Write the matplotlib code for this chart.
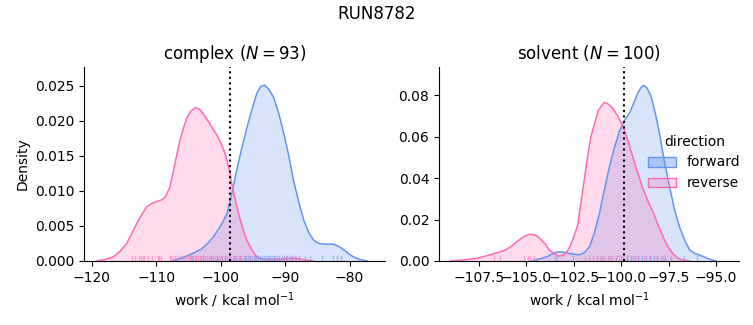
import matplotlib
matplotlib.use('Agg')
import matplotlib.pyplot as plt
from matplotlib.patches import Patch
from matplotlib.colors import to_rgba

# curvas de densidad (x, densidad)
cx_fwd = [-107.5, -106.8, -105.5, -104.3, -103.0, -101.9, -101.1, -100.0, -99.0, -98.3, -97.5, -96.7, -95.9,
          -95.1, -94.4, -93.8, -93.2, -92.6, -91.8, -91.0, -90.2, -89.4, -88.7, -87.9, -87.1, -86.3, -85.6,
          -84.8, -84.0, -83.2, -82.5, -81.7, -80.9, -80.1, -79.4, -78.4, -77.3]
cd_fwd = [0.0, 0.0002, 0.0006, 0.0011, 0.0017, 0.0026, 0.0035, 0.0050, 0.0068, 0.0095, 0.0130, 0.0162, 0.0191,
          0.0218, 0.0239, 0.0249, 0.0251, 0.0246, 0.0234, 0.0211, 0.0182, 0.0149, 0.0115, 0.0085, 0.0058, 0.0040, 0.0030,
          0.0025, 0.0024, 0.0024, 0.0024, 0.0021, 0.0016, 0.0010, 0.0006, 0.0002, 0.0]
cx_rev = [-119.2, -118.0, -116.6, -115.6, -114.6, -113.8, -113.0, -112.2, -111.5, -110.7, -109.9, -109.2, -108.6,
          -107.9, -107.3, -106.8, -106.3, -105.7, -105.2, -104.6, -103.9, -103.3, -102.7, -101.9, -101.1, -100.6,
          -100.1, -99.5, -99.0, -98.6, -98.3, -97.9, -97.5, -97.0, -96.5, -96.0, -95.4, -94.9, -94.4, -93.6,
          -92.8, -91.5, -90.2, -88.7, -87.2, -85.6]
cd_rev = [0.0, 0.0002, 0.0006, 0.0014, 0.0025, 0.0039, 0.0054, 0.0067, 0.0077, 0.0082, 0.0085, 0.0087, 0.0091,
          0.0105, 0.0130, 0.0152, 0.0173, 0.0192, 0.0205, 0.0214, 0.0219, 0.0217, 0.0210, 0.0199, 0.0187, 0.0180,
          0.0171, 0.0158, 0.0143, 0.0128, 0.0111, 0.0094, 0.0078, 0.0060, 0.0044, 0.0031, 0.0020, 0.0012, 0.0006, 0.0003,
          0.0002, 0.0002, 0.0003, 0.0004, 0.0002, 0.0]

sx_fwd = [-104.7, -104.3, -103.9, -103.6, -103.3, -103.0, -102.8, -102.5, -102.2, -101.95, -101.67, -101.4,
          -101.15, -100.9, -100.62, -100.35, -100.1, -99.85, -99.57, -99.35, -99.13, -98.95, -98.83, -98.65,
          -98.43, -98.2, -97.99, -97.75, -97.46, -97.2, -96.94, -96.65, -96.4, -96.1, -95.88, -95.6, -95.35, -95.0]
sd_fwd = [0.0, 0.0010, 0.0021, 0.0036, 0.0044, 0.0042, 0.0038, 0.0033, 0.0030, 0.0040, 0.0069, 0.0140,
          0.0230, 0.0340, 0.0456, 0.0550, 0.0625, 0.0675, 0.0713, 0.0760, 0.0810, 0.0838, 0.0847, 0.0835,
          0.0794, 0.0710, 0.0617, 0.0490, 0.0359, 0.0250, 0.0166, 0.0098, 0.0053, 0.0035, 0.0029, 0.0018, 0.0008, 0.0]
sx_rev = [-109.0, -108.3, -107.6, -106.8, -106.1, -105.8, -105.5, -105.1, -104.8, -104.5, -104.3, -104.0, -103.8,
          -103.5, -103.3, -103.1, -102.9, -102.7, -102.5, -102.3, -102.1, -101.8, -101.6, -101.4, -101.2, -100.9,
          -100.7, -100.45, -100.2, -99.9, -99.65, -99.4, -99.15, -98.9, -98.6, -98.3, -98.05, -97.8, -97.55,
          -97.3, -97.05, -96.8, -96.4]
sd_rev = [0.0, 0.0005, 0.0013, 0.0032, 0.0053, 0.0070, 0.0093, 0.0120, 0.0129, 0.0124, 0.0110, 0.0082, 0.0053,
          0.0034, 0.0024, 0.0027, 0.0040, 0.0070, 0.0117, 0.0170, 0.0295, 0.0488, 0.0600, 0.0665, 0.0728, 0.0765,
          0.0758, 0.0738, 0.0700, 0.0649, 0.0580, 0.0504, 0.0430, 0.0359, 0.0290, 0.0230, 0.0170, 0.0117, 0.0070,
          0.0037, 0.0015, 0.0005, 0.0]

# posiciones de la alfombra (rug)
rug_c_fwd = [-104.5, -102.8, -101.5, -100.6, -99.9, -99.3, -98.6, -98.0, -97.6, -97.2, -96.8, -96.4, -96.0, -95.7,
             -95.4, -95.1, -94.8, -94.5, -94.2, -93.9, -93.6, -93.3, -93.0, -92.7, -92.4, -92.1, -91.8, -91.5,
             -91.2, -90.9, -90.5, -90.1, -89.7, -89.3, -88.9, -88.4, -87.8, -86.9, -86.1, -84.2, -82.5, -81.9, -81.4]
rug_c_rev = [-113.8, -113.3, -112.6, -112.4, -112.1, -111.9, -111.2, -110.7, -109.8, -109.5, -109.2, -107.9, -107.7,
             -107.4, -107.1, -106.8, -106.5, -106.2, -105.8, -105.5, -105.1, -104.8, -104.6, -104.3, -104.0, -103.8,
             -103.5, -103.2, -103.0, -102.7, -102.4, -102.1, -101.8, -101.5, -101.2, -100.9, -100.5, -100.2, -99.8,
             -99.4, -99.0, -98.6, -98.1, -97.6, -97.0, -96.3, -95.5, -94.6, -92.5, -89.8, -88.9, -88.3]
rug_s_fwd = [-103.5, -103.4, -102.55, -101.0, -100.6, -100.3, -100.0, -99.7, -99.5, -99.3, -99.1, -98.9, -98.7,
             -98.5, -98.3, -98.1, -97.9, -97.7, -97.4, -96.7, -96.0]
rug_s_rev = [-106.7, -106.4, -105.1, -104.9, -104.8, -104.6, -101.9, -101.7, -101.5, -101.3, -101.1, -100.9, -100.7,
             -100.5, -100.3, -100.1, -99.9, -99.7, -99.4, -99.1, -98.8, -98.5, -98.1, -97.8]

dg = [-98.5, -99.88]
titulos = ['complex ($N = 93$)', 'solvent ($N = 100$)']
azul = '#6495ED'
rosa = '#FF69B4'

fig = plt.figure(figsize=(7.53, 3.25), dpi=100)
ax1 = fig.add_axes([0.1116, 0.197, 0.3997, 0.597])
ax2 = fig.add_axes([0.583, 0.197, 0.3984, 0.597])

datos = [
    (ax1, cx_fwd, cd_fwd, cx_rev, cd_rev, rug_c_fwd, rug_c_rev),
    (ax2, sx_fwd, sd_fwd, sx_rev, sd_rev, rug_s_fwd, rug_s_rev),
]
for i, (ax, xf, df, xr, dr, rf, rr) in enumerate(datos):
    ax.fill_between(xf, df, color=azul, alpha=0.25, lw=0)
    ax.plot(xf, df, color=azul, lw=1.1)
    ax.fill_between(xr, dr, color=rosa, alpha=0.25, lw=0)
    ax.plot(xr, dr, color=rosa, lw=1.1)
    for v in rf:
        ax.axvline(v, ymin=0, ymax=0.025, color=azul, alpha=0.5, lw=1)
    for v in rr:
        ax.axvline(v, ymin=0, ymax=0.025, color=rosa, alpha=0.5, lw=1)
    ax.axvline(dg[i], color='k', ls=':', lw=1.5)
    ax.set_title(titulos[i])
    ax.set_xlabel('work / kcal mol$^{-1}$')
    ax.spines['top'].set_visible(False)
    ax.spines['right'].set_visible(False)

ax1.set_xlim(-121.2, -74.5)
ax1.set_ylim(0, 0.0277)
ax1.set_xticks([-120, -110, -100, -90, -80])
ax1.set_yticks([0, 0.005, 0.01, 0.015, 0.02, 0.025])
ax1.set_yticklabels(['0.000', '0.005', '0.010', '0.015', '0.020', '0.025'])
ax1.set_ylabel('Density')

ax2.set_xlim(-109.6, -93.8)
ax2.set_ylim(0, 0.0936)
ax2.set_xticks([-107.5, -105, -102.5, -100, -97.5, -95])
ax2.set_yticks([0, 0.02, 0.04, 0.06, 0.08])
ax2.set_yticklabels(['0.00', '0.02', '0.04', '0.06', '0.08'])

handles = [Patch(facecolor=to_rgba(azul, 0.4), edgecolor=azul, label='forward'),
           Patch(facecolor=to_rgba(rosa, 0.25), edgecolor=rosa, label='reverse')]
fig.legend(handles=handles, title='direction', loc='center left', bbox_to_anchor=(0.844, 0.50),
           frameon=False)

fig.suptitle('RUN8782', y=0.985)
fig.savefig('out.png')
